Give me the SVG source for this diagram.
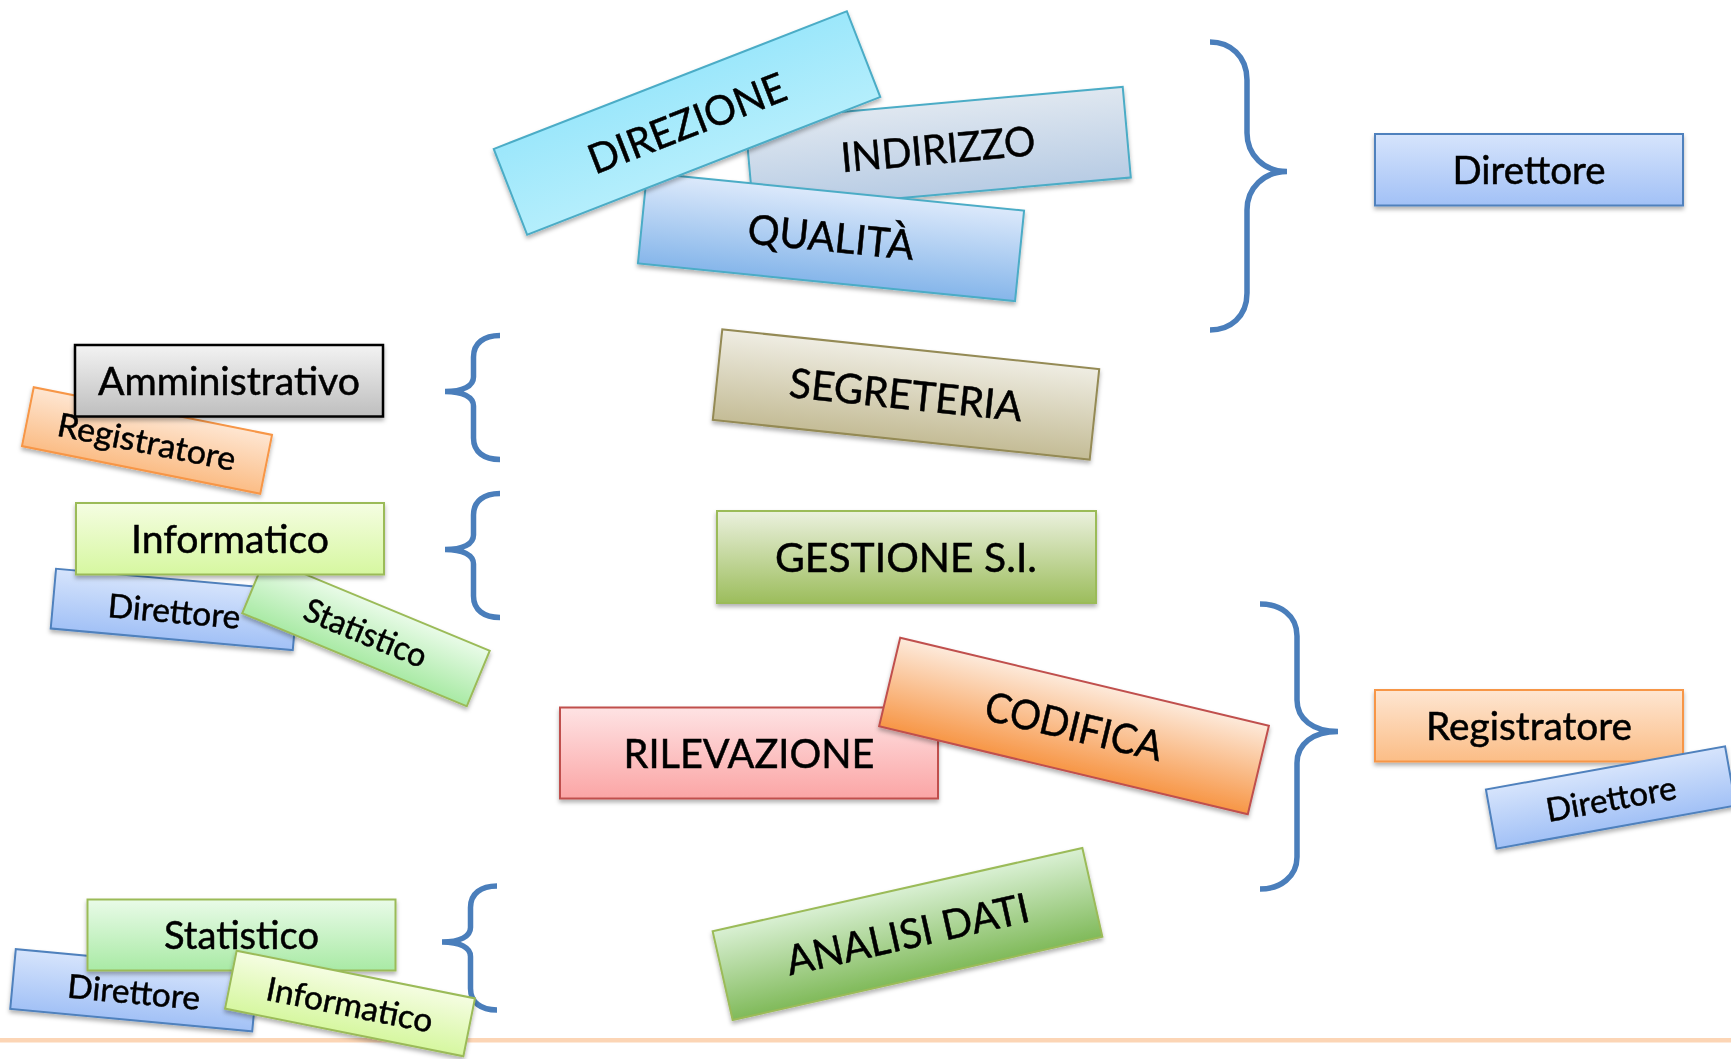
<svg xmlns="http://www.w3.org/2000/svg" width="1731" height="1059" viewBox="0 0 1731 1059">
<defs>
<style>
.t{font-family:Lato,"Open Sans","Liberation Sans",sans-serif;fill:#000;stroke:#000;stroke-width:0.5;text-anchor:middle}
.big{font-size:41px}
.sm{font-size:38px}
.rs{font-size:33px}
.br{fill:none;stroke:#4a7ebb;stroke-width:5.5}
rect{stroke-width:2}
</style>
<filter id="sh" x="-10%" y="-20%" width="120%" height="150%">
<feDropShadow dx="0" dy="3" stdDeviation="2" flood-color="#000" flood-opacity="0.3"/>
</filter>
<linearGradient id="gCyan" x1="0" y1="0" x2="0" y2="1"><stop offset="0" stop-color="#9ce7fb"/><stop offset="1" stop-color="#b4eefc"/></linearGradient>
<linearGradient id="gInd" x1="0" y1="0" x2="0" y2="1"><stop offset="0" stop-color="#dfe7f0"/><stop offset="1" stop-color="#b8cce4"/></linearGradient>
<linearGradient id="gQua" x1="0" y1="0" x2="0" y2="1"><stop offset="0" stop-color="#dce9fb"/><stop offset="1" stop-color="#86b6ea"/></linearGradient>
<linearGradient id="gSeg" x1="0" y1="0" x2="0" y2="1"><stop offset="0" stop-color="#efede3"/><stop offset="1" stop-color="#c4bc96"/></linearGradient>
<linearGradient id="gGes" x1="0" y1="0" x2="0" y2="1"><stop offset="0" stop-color="#ebf1de"/><stop offset="1" stop-color="#9cbd5c"/></linearGradient>
<linearGradient id="gRil" x1="0" y1="0" x2="0" y2="1"><stop offset="0" stop-color="#fee3e4"/><stop offset="1" stop-color="#fba5a5"/></linearGradient>
<linearGradient id="gCod" x1="0" y1="0" x2="0" y2="1"><stop offset="0" stop-color="#fdeadb"/><stop offset="1" stop-color="#f79646"/></linearGradient>
<linearGradient id="gAna" x1="0" y1="0" x2="0" y2="1"><stop offset="0" stop-color="#d9f0d3"/><stop offset="1" stop-color="#80ba5a"/></linearGradient>
<linearGradient id="gGray" x1="0" y1="0" x2="0" y2="1"><stop offset="0" stop-color="#f3f3f3"/><stop offset="1" stop-color="#bebebe"/></linearGradient>
<linearGradient id="gOr" x1="0" y1="0" x2="0" y2="1"><stop offset="0" stop-color="#fee6d2"/><stop offset="1" stop-color="#fbbd86"/></linearGradient>
<linearGradient id="gLime" x1="0" y1="0" x2="0" y2="1"><stop offset="0" stop-color="#f5fde2"/><stop offset="1" stop-color="#d6f7a0"/></linearGradient>
<linearGradient id="gBlue" x1="0" y1="0" x2="0" y2="1"><stop offset="0" stop-color="#d6e4fc"/><stop offset="1" stop-color="#a2c1f6"/></linearGradient>
<linearGradient id="gMint" x1="0" y1="0" x2="0" y2="1"><stop offset="0" stop-color="#e9fbe8"/><stop offset="1" stop-color="#a9eaa5"/></linearGradient>
</defs>
<rect x="0" y="0" width="1731" height="1059" fill="#fff" stroke="none"/>
<rect x="0" y="1038" width="1731" height="4.5" fill="#fcd5b5" stroke="none"/>

<g id="connectors">
<path class="br" d="M1210,42 C1230,42 1247,56 1247,80 L1247,133 C1247,155 1264,171.5 1287,171.5 C1264,171.5 1247,188 1247,210 L1247,293 C1247,317 1230,330 1210,330"/>
<path class="br" d="M1260,604 C1280,604 1297,615 1297,636 L1297,700 C1297,719 1313,731.5 1338,731.5 C1313,731.5 1297,744 1297,763 L1297,857 C1297,877 1280,889 1260,889"/>
<path class="br" d="M500,335.5 C484,335.5 473.5,343 473.5,357 L473.5,377 C473.5,386 463,391.5 445,391.5 C463,391.5 473.5,397 473.5,406 L473.5,438 C473.5,452 484,459.5 500,459.5"/>
<path class="br" transform="translate(0,158)" d="M500,335.5 C484,335.5 473.5,343 473.5,357 L473.5,377 C473.5,386 463,391.5 445,391.5 C463,391.5 473.5,397 473.5,406 L473.5,438 C473.5,452 484,459.5 500,459.5"/>
<path class="br" transform="translate(-3,550.5)" d="M500,335.5 C484,335.5 473.5,343 473.5,357 L473.5,377 C473.5,386 463,391.5 445,391.5 C463,391.5 473.5,397 473.5,406 L473.5,438 C473.5,452 484,459.5 500,459.5"/>
</g>

<g id="indirizzo" filter="url(#sh)"><g transform="translate(938,149) rotate(-5.1)"><rect x="-189.5" y="-45.5" width="379" height="91" fill="url(#gInd)" stroke="#4bacc6"/><text class="t big" y="14.7" textLength="195" lengthAdjust="spacingAndGlyphs">INDIRIZZO</text></g></g>
<g id="qualita" filter="url(#sh)"><g transform="translate(831,237) rotate(5.7)"><rect x="-189.5" y="-45.5" width="379" height="91" fill="url(#gQua)" stroke="#4bacc6"/><text class="t big" y="14.7" textLength="167" lengthAdjust="spacingAndGlyphs">QUALITÀ</text></g></g>
<g id="direzione" filter="url(#sh)"><g transform="translate(687,123) rotate(-21.3)"><rect x="-189.5" y="-46" width="379" height="92" fill="url(#gCyan)" stroke="#4bacc6"/><text class="t big" y="14.7" textLength="209" lengthAdjust="spacingAndGlyphs">DIREZIONE</text></g></g>

<g id="direttore-1" filter="url(#sh)"><rect x="1375" y="134" width="308" height="71.5" fill="url(#gBlue)" stroke="#4f81bd"/><text class="t sm" x="1529" y="183.5" textLength="153" lengthAdjust="spacingAndGlyphs">Direttore</text></g>

<g id="registratore-1" filter="url(#sh)"><g transform="translate(147,440.5) rotate(11.3)"><rect x="-121.5" y="-30" width="243" height="60" fill="url(#gOr)" stroke="#f79646"/><text class="t rs" y="13" textLength="181" lengthAdjust="spacingAndGlyphs">Registratore</text></g></g>
<g id="amministrativo" filter="url(#sh)"><rect x="75" y="345" width="308" height="71.5" fill="url(#gGray)" stroke="#000" style="stroke-width:2.5"/><text class="t sm" x="229" y="394.5" textLength="262" lengthAdjust="spacingAndGlyphs">Amministrativo</text></g>

<g id="direttore-2" filter="url(#sh)"><g transform="translate(174.4,609.4) rotate(5.1)"><rect x="-121.5" y="-30" width="243" height="60" fill="url(#gBlue)" stroke="#4f81bd"/><text class="t rs" y="13.5" textLength="133" lengthAdjust="spacingAndGlyphs">Direttore</text></g></g>
<g id="statistico-1" filter="url(#sh)"><g transform="translate(366,632) rotate(22.5)"><rect x="-121.5" y="-30" width="243" height="60" fill="url(#gMint)" stroke="#9bbb59"/><text class="t rs" y="12.5" textLength="130" lengthAdjust="spacingAndGlyphs">Statistico</text></g></g>
<g id="informatico-1" filter="url(#sh)"><rect x="76" y="503" width="308" height="71.5" fill="url(#gLime)" stroke="#9bbb59"/><text class="t sm" x="230" y="552.5" textLength="198" lengthAdjust="spacingAndGlyphs">Informatico</text></g>

<g id="segreteria" filter="url(#sh)"><g transform="translate(906,394.5) rotate(6)"><rect x="-189.5" y="-45.5" width="379" height="91" fill="url(#gSeg)" stroke="#948a54"/><text class="t big" y="14.7" textLength="234" lengthAdjust="spacingAndGlyphs">SEGRETERIA</text></g></g>
<g id="gestione" filter="url(#sh)"><rect x="717" y="511" width="379" height="92" fill="url(#gGes)" stroke="#9bbb59"/><text class="t big" x="906" y="571.7" textLength="262" lengthAdjust="spacingAndGlyphs">GESTIONE S.I.</text></g>

<g id="rilevazione" filter="url(#sh)"><rect x="560" y="707.5" width="378" height="91" fill="url(#gRil)" stroke="#c0504d"/><text class="t big" x="749" y="767.7" textLength="251" lengthAdjust="spacingAndGlyphs">RILEVAZIONE</text></g>
<g id="codifica" filter="url(#sh)"><g transform="translate(1074,726) rotate(13.4)"><rect x="-189.5" y="-45.5" width="379" height="91" fill="url(#gCod)" stroke="#c0504d"/><text class="t big" y="14.7" textLength="181" lengthAdjust="spacingAndGlyphs">CODIFICA</text></g></g>

<g id="registratore-2" filter="url(#sh)"><rect x="1375" y="690" width="308" height="71.5" fill="url(#gOr)" stroke="#f79646"/><text class="t sm" x="1529" y="739.5" textLength="206" lengthAdjust="spacingAndGlyphs">Registratore</text></g>
<g id="direttore-3" filter="url(#sh)"><g transform="translate(1610.8,797.5) rotate(-10.2)"><rect x="-121.5" y="-30" width="243" height="60" fill="url(#gBlue)" stroke="#4f81bd"/><text class="t rs" y="13" textLength="132" lengthAdjust="spacingAndGlyphs">Direttore</text></g></g>

<g id="analisi" filter="url(#sh)"><g transform="translate(907.5,934) rotate(-12.7)"><rect x="-189.5" y="-45.5" width="379" height="91" fill="url(#gAna)" stroke="#9bbb59"/><text class="t big" y="14.7" textLength="248" lengthAdjust="spacingAndGlyphs">ANALISI DATI</text></g></g>

<g id="direttore-4" filter="url(#sh)"><g transform="translate(134,990.3) rotate(5.3)"><rect x="-121.5" y="-30" width="243" height="60" fill="url(#gBlue)" stroke="#4f81bd"/><text class="t rs" y="13.5" textLength="133" lengthAdjust="spacingAndGlyphs">Direttore</text></g></g>
<g id="statistico-2" filter="url(#sh)"><rect x="87.5" y="899.5" width="308" height="71" fill="url(#gMint)" stroke="#9bbb59"/><text class="t sm" x="241.5" y="949" textLength="155" lengthAdjust="spacingAndGlyphs">Statistico</text></g>
<g id="informatico-2" filter="url(#sh)"><g transform="translate(350,1003.5) rotate(11.3)"><rect x="-121.5" y="-29.5" width="243" height="59" fill="url(#gLime)" stroke="#9bbb59"/><text class="t rs" y="13" textLength="169" lengthAdjust="spacingAndGlyphs">Informatico</text></g></g>
</svg>
